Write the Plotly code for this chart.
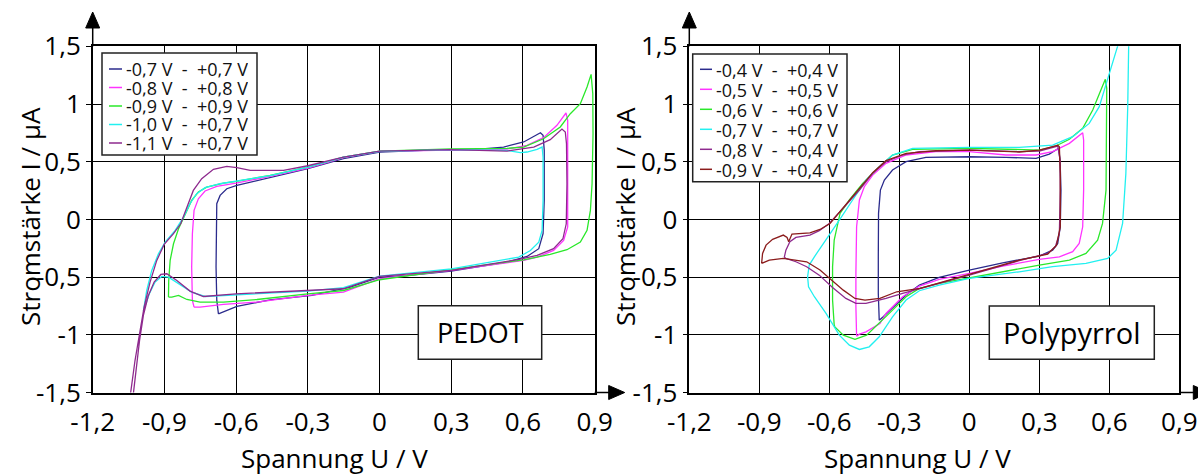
import plotly.graph_objects as go

W, H = 1198, 476
FONT = "Open Sans"

# ---- PEDOT (left panel), voltage U / V and current I / uA ----
pedot_labels = ["-0,7 V  -  +0,7 V", "-0,8 V  -  +0,8 V", "-0,9 V  -  +0,9 V",
                "-1,0 V  -  +0,7 V", "-1,1 V  -  +0,7 V"]
pedot_colors = ["#2b2b8c", "#ff33ff", "#2ae82a", "#22f0f0", "#8e2a8e"]

pedot_u_07 = [-0.674, -0.681, -0.684, -0.684, -0.681, -0.667, -0.639, -0.597, -0.458, -0.300, -0.151, 0.0,
              0.184, 0.393, 0.519, 0.603, 0.673, 0.684, 0.689, 0.689, 0.684, 0.666, 0.617, 0.533, 0.300,
              0.114, 0.0, -0.123, -0.283, -0.458, -0.597, -0.674]
pedot_i_07 = [-0.818, -0.702, -0.413, -0.124, 0.136, 0.208, 0.266, 0.295, 0.361, 0.439, 0.526, 0.584,
              0.598, 0.604, 0.627, 0.671, 0.751, 0.728, 0.598, 0.165, -0.124, -0.254, -0.321, -0.370, -0.448,
              -0.486, -0.500, -0.587, -0.659, -0.697, -0.754, -0.818]

pedot_u_08 = [-0.776, -0.783, -0.786, -0.783, -0.776, -0.758, -0.730, -0.681, -0.600, -0.458, -0.300, -0.151,
              0.0, 0.300, 0.533, 0.617, 0.686, 0.742, 0.780, 0.787, 0.788, 0.787, 0.770, 0.728, 0.659, 0.603,
              0.300, 0.0, -0.151, -0.300, -0.513, -0.653, -0.751, -0.776]
pedot_i_08 = [-0.760, -0.702, -0.413, -0.124, 0.078, 0.179, 0.246, 0.286, 0.315, 0.373, 0.445, 0.535,
              0.590, 0.604, 0.610, 0.642, 0.708, 0.815, 0.922, 0.858, 0.454, -0.066, -0.182, -0.269, -0.327,
              -0.355, -0.442, -0.514, -0.630, -0.659, -0.717, -0.737, -0.760, -0.760]

pedot_u_09 = [-0.883, -0.882, -0.876, -0.862, -0.841, -0.813, -0.786, -0.758, -0.723, -0.653, -0.600, -0.458,
              -0.300, -0.151, 0.0, 0.300, 0.533, 0.603, 0.686, 0.756, 0.798, 0.840, 0.868, 0.885, 0.892, 0.893,
              0.889, 0.882, 0.868, 0.840, 0.784, 0.714, 0.603, 0.300, 0.0, -0.151, -0.300, -0.513, -0.653,
              -0.751, -0.806, -0.841, -0.869, -0.883]
pedot_i_09 = [-0.673, -0.529, -0.355, -0.211, -0.081, 0.049, 0.165, 0.237, 0.280, 0.315, 0.329, 0.382,
              0.454, 0.540, 0.592, 0.610, 0.616, 0.627, 0.699, 0.801, 0.916, 1.003, 1.147, 1.257, 1.090, 0.743,
              0.309, 0.078, -0.095, -0.197, -0.263, -0.303, -0.350, -0.436, -0.523, -0.616, -0.645, -0.694,
              -0.717, -0.717, -0.694, -0.659, -0.673, -0.673]

pedot_u_10 = [-0.988, -0.974, -0.953, -0.925, -0.897, -0.855, -0.820, -0.793, -0.765, -0.730, -0.667, -0.600,
              -0.458, -0.300, -0.151, 0.0, 0.300, 0.533, 0.589, 0.617, 0.659, 0.680, 0.684, 0.684, 0.680, 0.666,
              0.631, 0.582, 0.300, 0.0, -0.151, -0.300, -0.513, -0.653, -0.730, -0.786, -0.841, -0.883, -0.911,
              -0.939, -0.963, -0.981, -0.988]
pedot_i_10 = [-0.795, -0.616, -0.442, -0.298, -0.197, -0.095, 0.020, 0.136, 0.223, 0.275, 0.309, 0.332,
              0.379, 0.454, 0.540, 0.590, 0.604, 0.598, 0.578, 0.584, 0.607, 0.627, 0.540, 0.165, -0.095, -0.197,
              -0.269, -0.327, -0.428, -0.491, -0.592, -0.621, -0.645, -0.659, -0.668, -0.630, -0.552, -0.500,
              -0.494, -0.543, -0.645, -0.746, -0.795]

pedot_u_11 = [-1.100, -1.041, -1.023, -1.004, -0.985, -0.960, -0.932, -0.901, -0.862, -0.832, -0.806, -0.779,
              -0.744, -0.695, -0.639, -0.597, -0.541, -0.402, -0.300, -0.151, 0.0, 0.300, 0.533, 0.645, 0.714,
              0.763, 0.777, 0.782, 0.784, 0.781, 0.767, 0.728, 0.659, 0.589, 0.300, 0.0, -0.151, -0.300, -0.600,
              -0.737, -0.793, -0.848, -0.890, -0.915, -0.943, -0.967, -0.988, -1.004, -1.018, -1.030, -1.100]
pedot_i_11 = [-2.400, -1.512, -1.223, -0.991, -0.760, -0.543, -0.355, -0.217, -0.124, -0.038, 0.107, 0.251,
              0.353, 0.434, 0.460, 0.448, 0.425, 0.425, 0.465, 0.540, 0.592, 0.604, 0.592, 0.627, 0.691,
              0.783, 0.757, 0.656, 0.309, -0.038, -0.168, -0.254, -0.312, -0.344, -0.442, -0.494, -0.601, -0.616,
              -0.645, -0.668, -0.621, -0.529, -0.471, -0.477, -0.543, -0.659, -0.832, -1.049, -1.280, -1.512,
              -2.400]

# ---- Polypyrrol (right panel) ----
ppy_labels = ["-0,4 V  -  +0,4 V", "-0,5 V  -  +0,5 V", "-0,6 V  -  +0,6 V",
              "-0,7 V  -  +0,7 V", "-0,8 V  -  +0,4 V", "-0,9 V  -  +0,4 V"]
ppy_colors = ["#2b2b8c", "#ff33ff", "#2ae82a", "#22f0f0", "#8e2a8e", "#8b1c1c"]

ppy_u_04 = [-0.386, -0.390, -0.390, -0.389, -0.381, -0.364, -0.329, -0.271, -0.186, 0.0, 0.157, 0.286, 0.343,
            0.383, 0.389, 0.393, 0.390, 0.379, 0.357, 0.300, 0.143, 0.0, -0.129, -0.214, -0.271, -0.329, -0.369,
            -0.386]
ppy_i_04 = [-0.873, -0.642, -0.324, 0.052, 0.254, 0.341, 0.428, 0.500, 0.538, 0.543, 0.538, 0.529, 0.566,
            0.616, 0.514, 0.254, -0.064, -0.208, -0.266, -0.318, -0.376, -0.439, -0.503, -0.569, -0.656, -0.772,
            -0.844, -0.873]

ppy_u_05 = [-0.483, -0.486, -0.486, -0.483, -0.471, -0.450, -0.414, -0.357, -0.271, -0.143, 0.0, 0.157, 0.286,
            0.357, 0.429, 0.486, 0.490, 0.490, 0.486, 0.471, 0.443, 0.386, 0.300, 0.143, 0.0, -0.129, -0.214,
            -0.286, -0.357, -0.383, -0.443, -0.471, -0.483]
ppy_i_05 = [-1.012, -0.757, -0.468, -0.064, 0.168, 0.283, 0.384, 0.486, 0.558, 0.587, 0.587, 0.558, 0.558,
            0.587, 0.659, 0.751, 0.688, 0.254, -0.064, -0.208, -0.280, -0.324, -0.347, -0.405, -0.468, -0.520,
            -0.578, -0.670, -0.815, -0.902, -0.974, -0.994, -1.012]

ppy_u_06 = [-0.579, -0.586, -0.586, -0.579, -0.554, -0.514, -0.457, -0.400, -0.329, -0.243, 0.0, 0.214, 0.300,
            0.371, 0.429, 0.486, 0.529, 0.564, 0.583, 0.589, 0.589, 0.586, 0.571, 0.550, 0.500, 0.429, 0.300,
            0.143, 0.0, -0.129, -0.214, -0.271, -0.329, -0.386, -0.440, -0.490, -0.540, -0.576, -0.579]
ppy_i_06 = [-0.916, -0.699, -0.410, -0.179, 0.052, 0.168, 0.312, 0.428, 0.558, 0.607, 0.616, 0.607, 0.601,
            0.636, 0.694, 0.789, 0.948, 1.121, 1.214, 1.136, 0.688, 0.254, -0.035, -0.179, -0.295, -0.353,
            -0.396, -0.454, -0.503, -0.555, -0.598, -0.670, -0.786, -0.902, -1.003, -1.040, -1.003, -0.931,
            -0.916]

ppy_u_07 = [-0.693, -0.686, -0.664, -0.614, -0.557, -0.500, -0.443, -0.386, -0.329, -0.243, 0.0, 0.214, 0.357,
            0.443, 0.514, 0.557, 0.600, 0.636, 0.660, 0.700, 0.686, 0.683, 0.679, 0.671, 0.657, 0.629, 0.593,
            0.500, 0.357, 0.214, 0.0, -0.129, -0.214, -0.271, -0.329, -0.386, -0.429, -0.471, -0.514, -0.557,
            -0.614, -0.664, -0.689, -0.693]
ppy_i_07 = [-0.497, -0.396, -0.324, -0.179, -0.006, 0.168, 0.341, 0.457, 0.558, 0.616, 0.624, 0.624, 0.644,
            0.717, 0.832, 0.977, 1.266, 1.503, 1.900, 2.600, 1.900, 1.503, 0.977, 0.399, -0.035, -0.266, -0.338,
            -0.381, -0.410, -0.454, -0.512, -0.569, -0.618, -0.699, -0.844, -1.017, -1.104, -1.127, -1.090,
            -1.003, -0.815, -0.670, -0.584, -0.497]

ppy_u_08 = [-0.793, -0.786, -0.769, -0.743, -0.683, -0.643, -0.600, -0.543, -0.471, -0.414, -0.357, -0.286,
            -0.214, 0.0, 0.214, 0.300, 0.379, 0.389, 0.390, 0.386, 0.369, 0.336, 0.214, 0.0, -0.129, -0.214,
            -0.286, -0.357, -0.443, -0.486, -0.529, -0.586, -0.643, -0.697, -0.743, -0.786, -0.793]
ppy_i_08 = [-0.329, -0.266, -0.194, -0.156, -0.136, -0.098, -0.035, 0.095, 0.254, 0.399, 0.500, 0.558, 0.587,
            0.601, 0.587, 0.592, 0.636, 0.514, 0.254, -0.121, -0.237, -0.295, -0.358, -0.483, -0.555, -0.598,
            -0.642, -0.685, -0.728, -0.728, -0.685, -0.590, -0.483, -0.410, -0.367, -0.338, -0.329]

ppy_u_09 = [-0.890, -0.886, -0.871, -0.843, -0.797, -0.781, -0.774, -0.760, -0.683, -0.640, -0.597, -0.543,
            -0.471, -0.414, -0.357, -0.271, -0.143, 0.0, 0.214, 0.300, 0.379, 0.386, 0.390, 0.390, 0.374, 0.336,
            0.214, 0.0, -0.129, -0.211, -0.311, -0.383, -0.447, -0.490, -0.540, -0.590, -0.640, -0.697, -0.797,
            -0.857, -0.890]
ppy_i_09 = [-0.381, -0.295, -0.223, -0.173, -0.136, -0.156, -0.194, -0.127, -0.116, -0.087, -0.035, 0.095,
            0.260, 0.405, 0.509, 0.572, 0.595, 0.601, 0.584, 0.601, 0.642, 0.630, 0.399, -0.064, -0.223, -0.301,
            -0.353, -0.477, -0.549, -0.598, -0.627, -0.685, -0.699, -0.685, -0.613, -0.526, -0.439, -0.367,
            -0.338, -0.353, -0.381]

x_ticks = [-1.2, -0.9, -0.6, -0.3, 0, 0.3, 0.6, 0.9]
x_ticktext = ["-1,2", "-0,9", "-0,6", "-0,3", "0", "0,3", "0,6", "0,9"]
y_ticks = [-1.5, -1, -0.5, 0, 0.5, 1, 1.5]
y_ticktext = ["-1,5", "-1", "-0,5", "0", "0,5", "1", "1,5"]

pedot_series = [(pedot_u_07, pedot_i_07), (pedot_u_08, pedot_i_08), (pedot_u_09, pedot_i_09),
                (pedot_u_10, pedot_i_10), (pedot_u_11, pedot_i_11)]
ppy_series = [(ppy_u_04, ppy_i_04), (ppy_u_05, ppy_i_05), (ppy_u_06, ppy_i_06),
              (ppy_u_07, ppy_i_07), (ppy_u_08, ppy_i_08), (ppy_u_09, ppy_i_09)]


def px(x):
    return x / W


def py(y):
    return 1 - y / H


# panel geometry in pixels
PANELS = [
    dict(xa="x", ya="y", left=92.7, right=594.7, series=pedot_series, labels=pedot_labels, colors=pedot_colors,
         leg=(102, 257, 53, 155), leg_row0=69, leg_step=18.5, leg_line=(109, 122), leg_text=125,
         box=(418.3, 541.7, 305.7, 359.3), box_text="PEDOT", box_size=27, ytitle_x=30, xtitle_x=334),
    dict(xa="x2", ya="y2", left=689.3, right=1179.3, series=ppy_series, labels=ppy_labels, colors=ppy_colors,
         leg=(692.7, 847, 54, 181.7), leg_row0=69.3, leg_step=20, leg_line=(700, 712), leg_text=715,
         box=(989.3, 1154.3, 306, 359.3), box_text="Polypyrrol", box_size=29, ytitle_x=625, xtitle_x=917),
]
TOP, BOTTOM = 46.3, 392.5

fig = go.Figure()
shapes = []
annotations = []

for p in PANELS:
    for (u, i), label, color in zip(p["series"], p["labels"], p["colors"]):
        fig.add_trace(go.Scatter(
            x=u, y=i, mode="lines", name=label, showlegend=False,
            line=dict(color=color, width=1.3),
            xaxis=p["xa"], yaxis=p["ya"],
        ))

    # axis arrows
    shapes.append(dict(type="line", xref="paper", yref="paper",
                       x0=px(p["left"]), x1=px(p["left"]), y0=py(TOP), y1=py(26),
                       line=dict(color="black", width=1.5)))
    shapes.append(dict(type="path", xref="paper", yref="paper",
                       path=f"M {px(p['left'] - 7)},{py(28)} L {px(p['left'] + 7)},{py(28)} "
                            f"L {px(p['left'])},{py(12)} Z",
                       fillcolor="black", line=dict(color="black", width=1)))
    shapes.append(dict(type="line", xref="paper", yref="paper",
                       x0=px(p["right"]), x1=px(p["right"] + 16), y0=py(BOTTOM), y1=py(BOTTOM),
                       line=dict(color="black", width=1.5)))
    shapes.append(dict(type="path", xref="paper", yref="paper",
                       path=f"M {px(p['right'] + 14)},{py(BOTTOM - 7)} L {px(p['right'] + 14)},{py(BOTTOM + 7)} "
                            f"L {px(p['right'] + 30)},{py(BOTTOM)} Z",
                       fillcolor="black", line=dict(color="black", width=1)))

    # legend box
    lx0, lx1, ly0, ly1 = p["leg"]
    shapes.append(dict(type="rect", xref="paper", yref="paper",
                       x0=px(lx0), x1=px(lx1), y0=py(ly1), y1=py(ly0),
                       fillcolor="white", line=dict(color="#222", width=1.5)))
    for k, (label, color) in enumerate(zip(p["labels"], p["colors"])):
        yy = p["leg_row0"] + k * p["leg_step"]
        shapes.append(dict(type="line", xref="paper", yref="paper",
                           x0=px(p["leg_line"][0]), x1=px(p["leg_line"][1]), y0=py(yy), y1=py(yy),
                           line=dict(color=color, width=1.5)))
        annotations.append(dict(xref="paper", yref="paper", x=px(p["leg_text"]), y=py(yy),
                                xanchor="left", yanchor="middle", showarrow=False,
                                height=p["leg_step"] - 1, borderpad=0, valign="middle",
                                text=label.replace(" ", "\u00a0"),
                                font=dict(family=FONT, size=18, color="#111")))

    # material label box
    bx0, bx1, by0, by1 = p["box"]
    shapes.append(dict(type="rect", xref="paper", yref="paper",
                       x0=px(bx0), x1=px(bx1), y0=py(by1), y1=py(by0),
                       fillcolor="white", line=dict(color="#222", width=1.5)))
    annotations.append(dict(xref="paper", yref="paper", x=px((bx0 + bx1) / 2), y=py((by0 + by1) / 2),
                            xanchor="center", yanchor="middle", showarrow=False, text=p["box_text"],
                            font=dict(family=FONT, size=p["box_size"], color="black")))

    # axis titles
    annotations.append(dict(xref="paper", yref="paper", x=px(p["xtitle_x"]), y=py(458),
                            xanchor="center", yanchor="middle", showarrow=False, text="Spannung U / V",
                            font=dict(family=FONT, size=26, color="black")))
    annotations.append(dict(xref="paper", yref="paper", x=px(p["ytitle_x"]), y=py(217),
                            xanchor="center", yanchor="middle", showarrow=False, textangle=-90,
                            text="Stromstärke I / µA",
                            font=dict(family=FONT, size=26, color="black")))

axis_common = dict(showgrid=True, gridcolor="black", gridwidth=1, zeroline=False, automargin=False,
                   showline=True, linecolor="black", linewidth=1.5, mirror=True,
                   tickfont=dict(family=FONT, size=26, color="black"))

ydom = [py(BOTTOM), py(TOP)]
fig.update_layout(
    template="none",
    width=W, height=H,
    margin=dict(l=0, r=0, t=0, b=0, pad=0, autoexpand=False),
    paper_bgcolor="white", plot_bgcolor="white",
    showlegend=False,
    xaxis=dict(domain=[px(PANELS[0]["left"]), px(PANELS[0]["right"])], range=[-1.2, 0.9],
               tickvals=x_ticks, ticktext=x_ticktext, ticks="", ticklabelstandoff=6, anchor="y", **axis_common),
    yaxis=dict(domain=ydom, range=[-1.5, 1.5], tickvals=y_ticks, ticktext=y_ticktext,
               ticks="outside", ticklen=5, tickcolor="black", anchor="x", **axis_common),
    xaxis2=dict(domain=[px(PANELS[1]["left"]), px(PANELS[1]["right"])], range=[-1.2, 0.9],
                tickvals=x_ticks, ticktext=x_ticktext, ticks="", ticklabelstandoff=6, anchor="y2", **axis_common),
    yaxis2=dict(domain=ydom, range=[-1.5, 1.5], tickvals=y_ticks, ticktext=y_ticktext,
                ticks="outside", ticklen=5, tickcolor="black", anchor="x2", **axis_common),
    shapes=shapes,
    annotations=annotations,
)

# the page's default body margin would shift the figure by 8 px
fig.write_html("out.html", config={"displayModeBar": False},
               post_script="document.body.style.margin='0';document.body.style.overflow='hidden';")
